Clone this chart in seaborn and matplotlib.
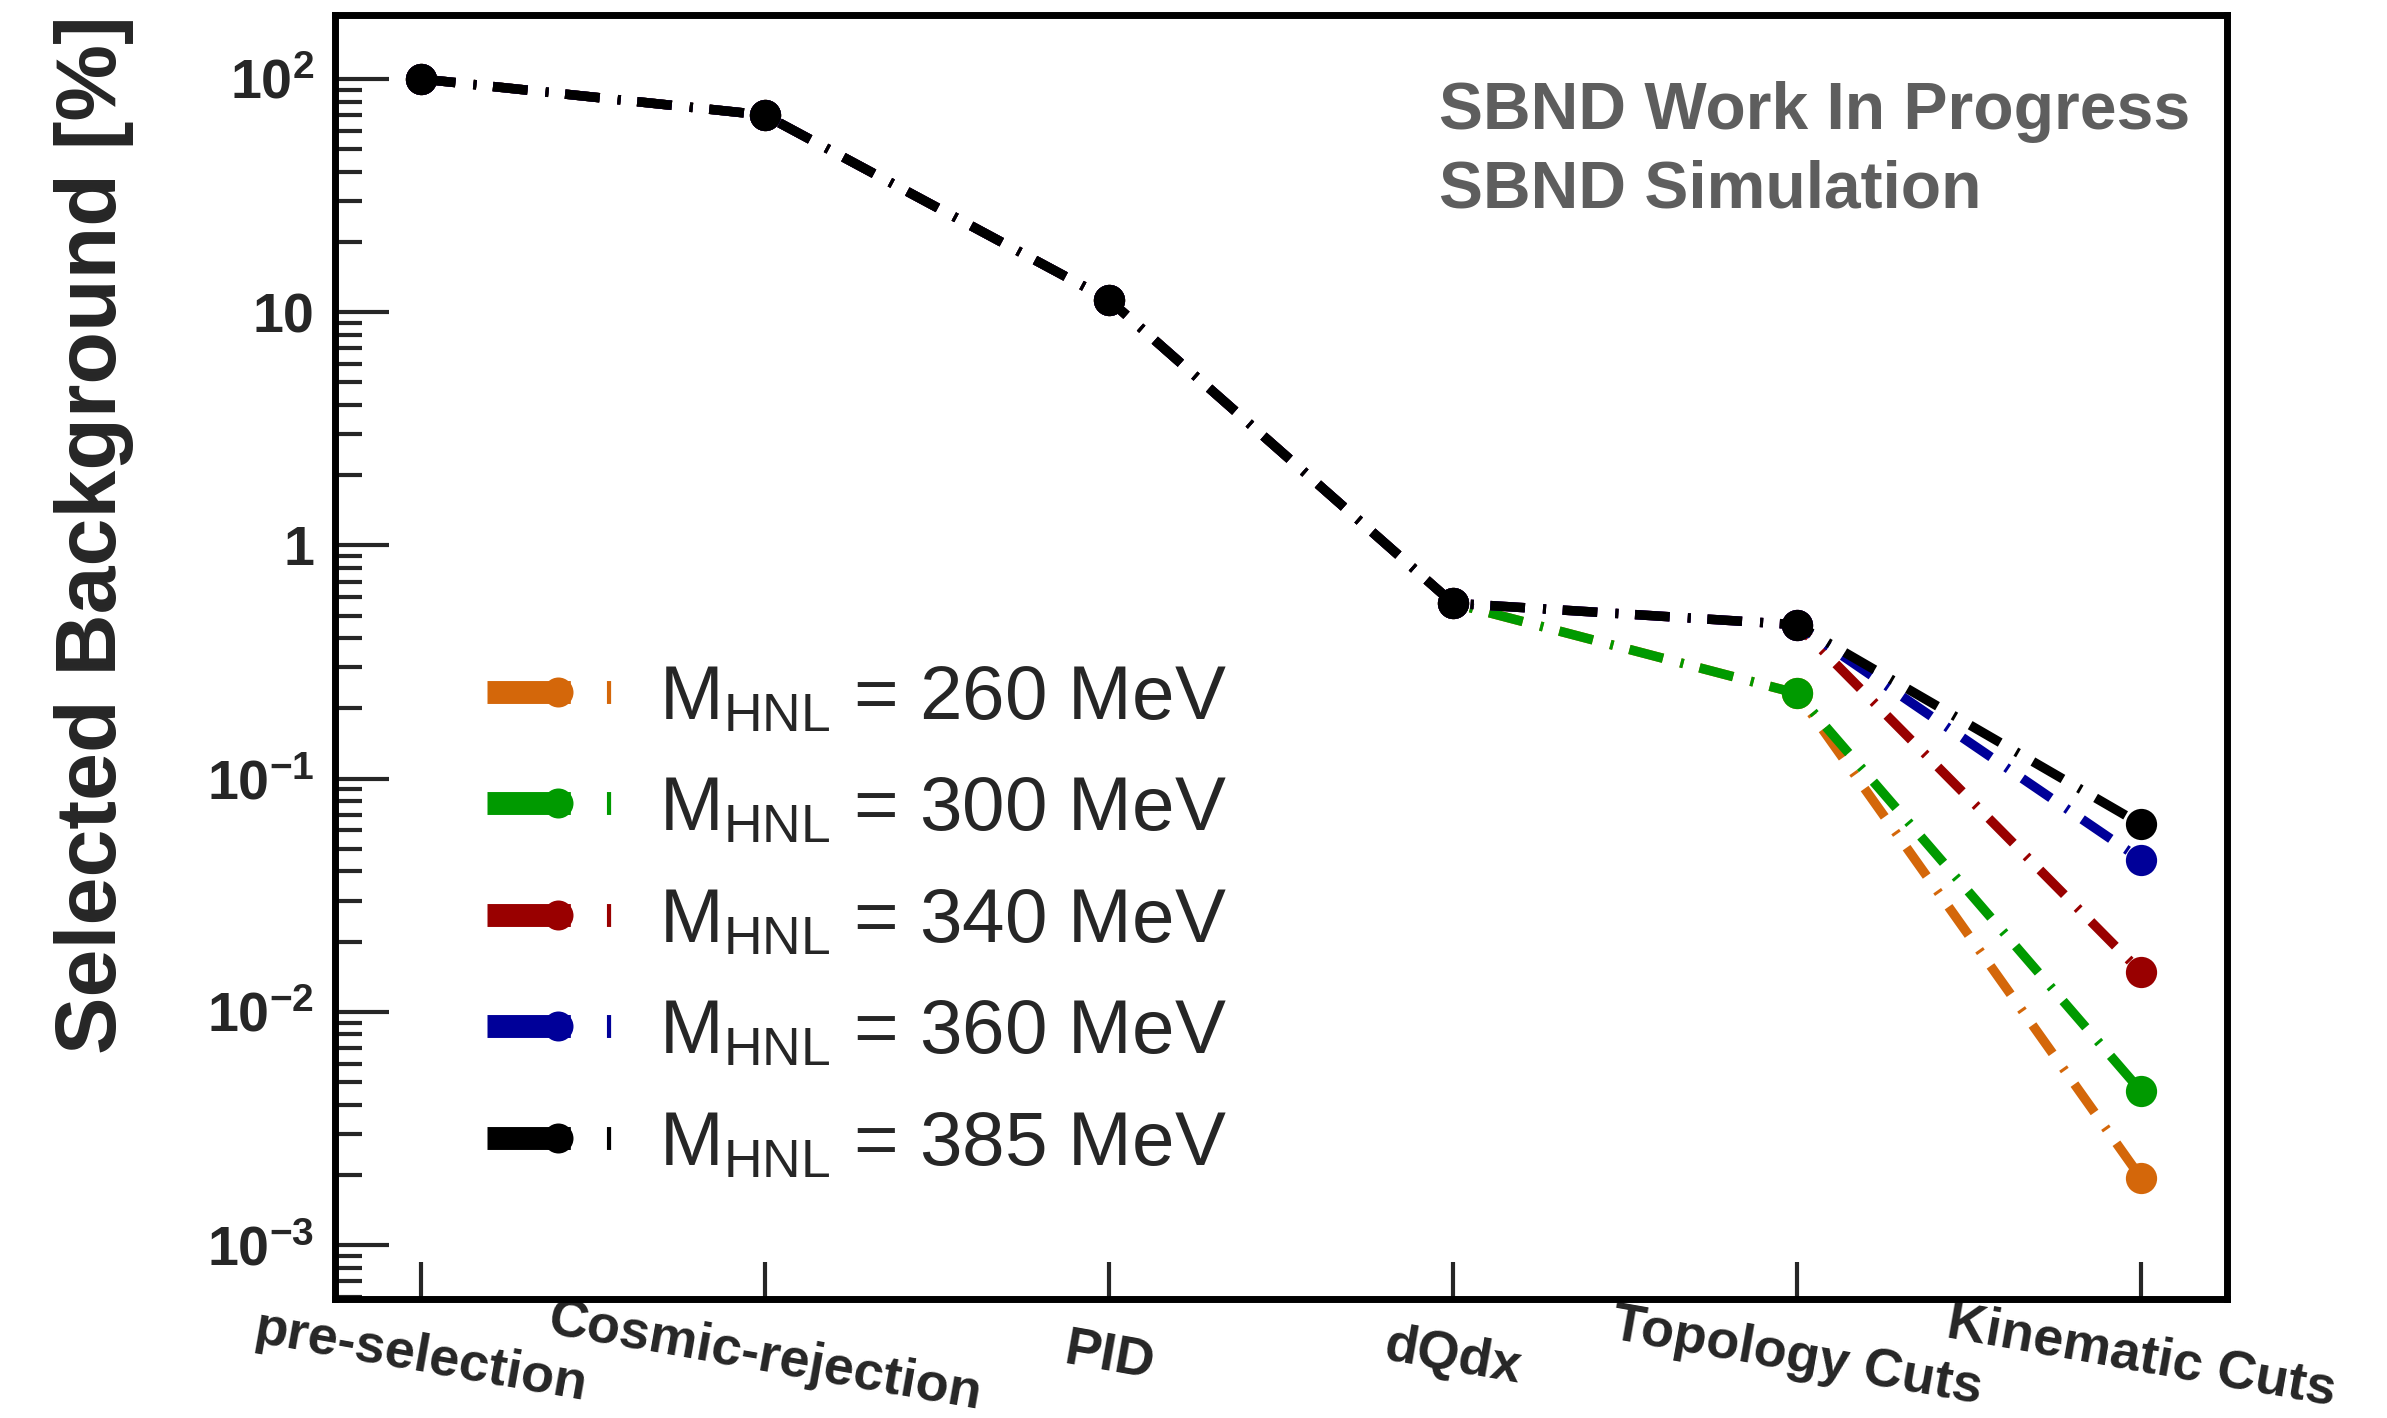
import numpy as np
import pandas as pd
import matplotlib
matplotlib.use("Agg")
import matplotlib.pyplot as plt
from matplotlib.lines import Line2D
from matplotlib.ticker import FixedLocator, FixedFormatter, LogLocator, NullFormatter
import seaborn as sns

# Selection stages
steps = ["pre-selection", "Cosmic-rejection", "PID", "dQdx", "Topology Cuts", "Kinematic Cuts"]

# HNL mass points [MeV]
masses = ["260", "300", "340", "360", "385"]

# Fraction of background surviving each stage [%]
bkg_260 = [100, 70, 11.3, 0.565, 0.232, 0.00194]
bkg_300 = [100, 70, 11.3, 0.565, 0.232, 0.00457]
bkg_340 = [100, 70, 11.3, 0.565, 0.457, 0.0148]
bkg_360 = [100, 70, 11.3, 0.565, 0.457, 0.045]
bkg_385 = [100, 70, 11.3, 0.565, 0.457, 0.0637]

colors = ["#d4670a", "#009a00", "#990000", "#000099", "#000000"]

ytick_vals = [1e-3, 1e-2, 1e-1, 1, 10, 100]
ytick_labels = [r"$\mathbf{10^{-3}}$", r"$\mathbf{10^{-2}}$", r"$\mathbf{10^{-1}}$",
                "1", "10", r"$\mathbf{10^{2}}$"]

sns.set_style("white")
plt.rcParams["font.family"] = ["Liberation Sans", "DejaVu Sans"]
plt.rcParams["mathtext.fontset"] = "custom"
plt.rcParams["mathtext.rm"] = "Liberation Sans"
plt.rcParams["mathtext.bf"] = "Liberation Sans:bold"
plt.rcParams["mathtext.it"] = "Liberation Sans:italic"
plt.rcParams["lines.scale_dashes"] = False

series = [bkg_260, bkg_300, bkg_340, bkg_360, bkg_385]
mass_labels = [f"{m} MeV" for m in masses]
df = pd.DataFrame({
    "step": np.tile(np.arange(len(steps)), len(masses)),
    "bkg": np.concatenate(series),
    "mass": np.repeat(mass_labels, len(steps)),
})

fig = plt.figure(figsize=(23.87, 14.18), dpi=100)
ax = fig.add_axes([0.1403, 0.0839, 0.933 - 0.1403, 0.9894 - 0.0839])

# dash-dot pattern (points): long dash, gap, short tick, gap
sns.lineplot(data=df, x="step", y="bkg", hue="mass", hue_order=mass_labels,
             palette=colors, marker="o", markersize=22.5, markeredgewidth=0,
             linewidth=6.8, linestyle=(0, (25, 13, 2.2, 12)), dash_capstyle="butt",
             errorbar=None, sort=False, legend=False, ax=ax)

ax.set_yscale("log")
ax.set_ylim(5.87e-4, 188)
ax.set_xlim(-0.25, 5.25)

ax.yaxis.set_major_locator(FixedLocator(ytick_vals))
ax.yaxis.set_major_formatter(FixedFormatter(ytick_labels))
ax.yaxis.set_minor_locator(LogLocator(base=10, subs=np.arange(2, 10), numticks=20))
ax.yaxis.set_minor_formatter(NullFormatter())

ax.set_xticks(np.arange(len(steps)))
ax.set_xticklabels(steps)

ax.tick_params(axis="y", which="major", direction="in", length=39, width=3,
               labelsize=40, pad=15, left=True, right=False)
ax.tick_params(axis="y", which="minor", direction="in", length=19.5, width=3,
               left=True, right=False)
ax.tick_params(axis="x", which="major", direction="in", length=27, width=3,
               labelsize=39, pad=42, bottom=True, top=False)
for lab in ax.get_yticklabels():
    lab.set_fontweight("bold")
for lab in ax.get_xticklabels():
    lab.set(fontweight="bold", rotation=-10, ha="center", va="center",
            rotation_mode="anchor")

for sp in ax.spines.values():
    sp.set_visible(True)
    sp.set_linewidth(5)
    sp.set_color("black")

ax.set_xlabel("")
ax.set_ylabel("Selected Background [%]", fontsize=62, fontweight="bold", loc="top")
ax.yaxis.set_label_coords(-0.106, 1.0)

# legend keys: thick dash ending under the marker, then a short tick
handles = [Line2D([], [], color=c, lw=16.5, linestyle=(0, (60, 26, 3, 60)),
                  dash_capstyle="butt", marker="o", markersize=21.6,
                  markeredgewidth=0) for c in colors]
labels = [rf"$\mathregular{{M_{{HNL}}}}$ = {m} MeV" for m in masses]
ax.legend(handles=handles, labels=labels, loc="upper left",
          bbox_to_anchor=(0.204, 0.532), bbox_transform=fig.transFigure,
          frameon=False, fontsize=55, handlelength=1.86, handletextpad=0.39,
          labelspacing=0.53, borderpad=0, borderaxespad=0)

fig.text(0.6028, 0.9087, "SBND Work In Progress", fontsize=47.5, fontweight="bold",
         color="#5e5e5e", ha="left", va="baseline")
fig.text(0.6028, 0.8535, "SBND Simulation", fontsize=47.5, fontweight="bold",
         color="#5e5e5e", ha="left", va="baseline")

fig.savefig("out.png", dpi=100, facecolor="white")
